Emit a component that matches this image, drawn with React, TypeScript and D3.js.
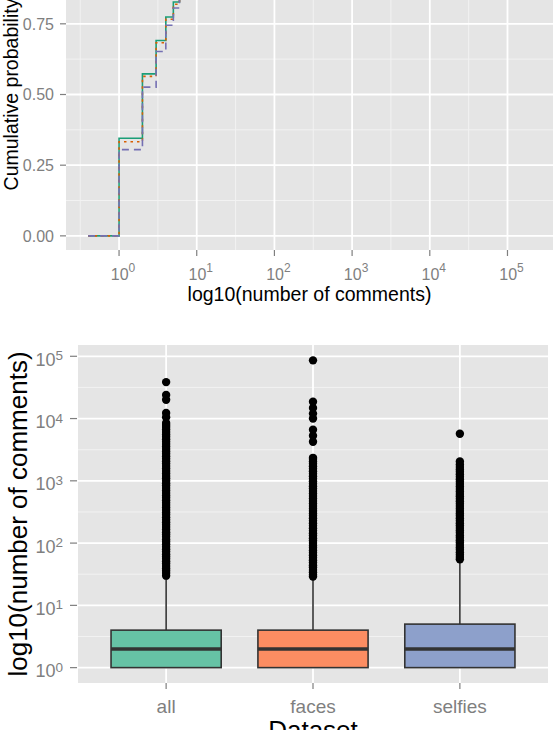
import { useEffect, useRef } from "react";
import * as d3 from "d3";

const W = 557,
  H = 730;

// top panel: ECDF of number of comments
const ecdfSeries = ["all", "faces", "selfies"];
const ecdfX = [0.4, 1, 2, 3, 4, 5, 6, 7, 8, 10, 20, 100, 1000, 200000];
const ecdfAll = [0, 0.345, 0.573, 0.691, 0.774, 0.827, 0.862, 0.888, 0.907, 0.93, 0.97, 0.992, 0.999, 1];
const ecdfFaces = [0, 0.333, 0.564, 0.683, 0.766, 0.819, 0.856, 0.883, 0.902, 0.926, 0.968, 0.991, 0.999, 1];
const ecdfSelfies = [0, 0.305, 0.526, 0.652, 0.745, 0.806, 0.843, 0.872, 0.893, 0.918, 0.963, 0.989, 0.998, 1];
const ecdfColors = ["#1B9E77", "#D95F02", "#7570B3"];
const ecdfDash = [null, "2.5,4", "7,5"];
const probTicks = [0, 0.25, 0.5, 0.75, 1];
const probMinor = [0.125, 0.375, 0.625, 0.875];
const decadeTicks = [0, 1, 2, 3, 4, 5];

// bottom panel: boxplots
const datasets = ["all", "faces", "selfies"];
const boxLow = [1, 1, 1];
const boxQ1 = [1, 1, 1];
const boxMedian = [2, 2, 2];
const boxQ3 = [4, 4, 5];
const boxHigh = [29, 28, 52];
const boxColors = ["#66C2A5", "#FC8D62", "#8DA0CB"];
const outliersAll = [
  30, 33, 36, 39, 43, 47, 51, 56, 61, 66, 73, 80, 87, 96, 105, 114, 126, 138, 150, 165, 181, 197, 217, 238,
  259, 284, 310, 341, 372, 408, 445, 488, 535, 583, 640, 700, 765, 840, 915, 1005, 1100, 1200, 1315, 1440,
  1575, 1725, 1890, 2065, 2260, 2475, 2710, 2960, 3245, 3550, 3885, 4250, 4650, 5090, 5570, 6100, 6670,
  7300, 7900, 8500, 10500, 12300, 20000, 24000, 38500,
];
const outliersFaces = [
  29, 31, 34, 37, 41, 44, 49, 53, 58, 64, 70, 76, 84, 91, 100, 110, 120, 132, 144, 158, 173, 190, 208, 228,
  250, 274, 300, 329, 360, 395, 433, 474, 520, 570, 624, 684, 750, 822, 900, 987, 1081, 1185, 1300, 1423,
  1560, 1710, 1873, 2050, 2250, 2340, 4250, 5300, 6600, 10000, 12000, 14800, 18600, 86000,
];
const outliersSelfies = [
  55, 60, 65, 71, 78, 85, 93, 102, 111, 122, 133, 146, 160, 175, 191, 209, 229, 250, 274, 300, 328, 359,
  393, 430, 471, 515, 564, 617, 676, 740, 810, 886, 970, 1062, 1162, 1272, 1393, 1525, 1670, 1830, 2050,
  5700,
];

const FONT = "'Liberation Sans', Arial, sans-serif";

function App() {
  const svgRef = useRef(null);

  const buildSVG = () => {
    const svg = d3.select(svgRef.current);
    svg.selectAll("*").remove();
    svg.attr("width", W).attr("height", H).style("font-family", FONT);

    // ---------- top panel ----------
    const p1 = { left: 66, right: 553, top: -61, bottom: 250 };
    const lx = ecdfX.map((v) => Math.log10(v));
    const lMin = d3.min(lx) as number,
      lMax = d3.max(lx) as number;
    const pad = (lMax - lMin) * 0.05;
    const x1 = d3
      .scaleLog()
      .domain([Math.pow(10, lMin - pad), Math.pow(10, lMax + pad)])
      .range([p1.left, p1.right]);
    const y1 = d3.scaleLinear().domain([-0.05, 1.05]).range([p1.bottom, p1.top]);

    const g1 = svg.append("g");
    g1.append("rect")
      .attr("x", p1.left)
      .attr("y", p1.top)
      .attr("width", p1.right - p1.left)
      .attr("height", p1.bottom - p1.top)
      .attr("fill", "#E5E5E5");

    g1.selectAll(".ym")
      .data(probMinor)
      .enter()
      .append("line")
      .attr("x1", p1.left)
      .attr("x2", p1.right)
      .attr("y1", (d) => y1(d))
      .attr("y2", (d) => y1(d))
      .attr("stroke", "#F2F2F2")
      .attr("stroke-width", 1);
    g1.selectAll(".xm")
      .data(decadeTicks.slice(0, 5).map((d) => d + 0.5).concat([-0.5]))
      .enter()
      .append("line")
      .attr("x1", (d) => x1(Math.pow(10, d)))
      .attr("x2", (d) => x1(Math.pow(10, d)))
      .attr("y1", p1.top)
      .attr("y2", p1.bottom)
      .attr("stroke", "#F2F2F2")
      .attr("stroke-width", 1);
    g1.selectAll(".yg")
      .data(probTicks)
      .enter()
      .append("line")
      .attr("x1", p1.left)
      .attr("x2", p1.right)
      .attr("y1", (d) => y1(d))
      .attr("y2", (d) => y1(d))
      .attr("stroke", "white")
      .attr("stroke-width", 1.8);
    g1.selectAll(".xg")
      .data(decadeTicks)
      .enter()
      .append("line")
      .attr("x1", (d) => x1(Math.pow(10, d)))
      .attr("x2", (d) => x1(Math.pow(10, d)))
      .attr("y1", p1.top)
      .attr("y2", p1.bottom)
      .attr("stroke", "white")
      .attr("stroke-width", 1.8);

    svg
      .append("clipPath")
      .attr("id", "clip1")
      .append("rect")
      .attr("x", p1.left)
      .attr("y", p1.top)
      .attr("width", p1.right - p1.left)
      .attr("height", p1.bottom - p1.top);

    const ecdfVals = [ecdfAll, ecdfFaces, ecdfSelfies];
    const line = d3
      .line<[number, number]>()
      .x((d) => x1(d[0]))
      .y((d) => y1(d[1]))
      .curve(d3.curveStepAfter);
    ecdfSeries.forEach((s, i) => {
      const pts = ecdfX.map((v, j) => [v, ecdfVals[i][j]] as [number, number]);
      const path = g1
        .append("path")
        .attr("clip-path", "url(#clip1)")
        .attr("d", line(pts))
        .attr("fill", "none")
        .attr("stroke", ecdfColors[i])
        .attr("stroke-width", 1.6);
      if (ecdfDash[i]) path.attr("stroke-dasharray", ecdfDash[i] as string);
    });

    // axes top
    probTicks.forEach((t) => {
      g1.append("line")
        .attr("x1", p1.left - 6)
        .attr("x2", p1.left)
        .attr("y1", y1(t))
        .attr("y2", y1(t))
        .attr("stroke", "#7F7F7F")
        .attr("stroke-width", 1.2);
      g1.append("text")
        .attr("x", p1.left - 12)
        .attr("y", y1(t) + 5.7)
        .attr("text-anchor", "end")
        .attr("font-size", 16)
        .attr("fill", "#7F7F7F")
        .text(t.toFixed(2));
    });
    decadeTicks.forEach((t) => {
      const xx = x1(Math.pow(10, t));
      g1.append("line")
        .attr("x1", xx)
        .attr("x2", xx)
        .attr("y1", p1.bottom)
        .attr("y2", p1.bottom + 6)
        .attr("stroke", "#7F7F7F")
        .attr("stroke-width", 1.2);
      const tx = g1
        .append("text")
        .attr("x", xx + 4)
        .attr("y", p1.bottom + 30)
        .attr("text-anchor", "middle")
        .attr("font-size", 16)
        .attr("fill", "#7F7F7F");
      tx.append("tspan").text("10");
      tx.append("tspan").attr("dy", -8).attr("font-size", 12).text(String(t));
    });
    g1.append("text")
      .attr("x", (p1.left + p1.right) / 2)
      .attr("y", 301)
      .attr("text-anchor", "middle")
      .attr("font-size", 19.5)
      .attr("fill", "black")
      .text("log10(number of comments)");
    g1.append("text")
      .attr("transform", `translate(17.5,${(p1.top + p1.bottom) / 2}) rotate(-90)`)
      .attr("text-anchor", "middle")
      .attr("font-size", 19.5)
      .attr("fill", "black")
      .text("Cumulative probability");

    // ---------- bottom panel ----------
    const p2 = { left: 78, right: 548, top: 345, bottom: 683 };
    const allVals = [boxLow, boxHigh, outliersAll, outliersFaces, outliersSelfies].flat();
    const vMin = Math.log10(d3.min(allVals) as number),
      vMax = Math.log10(d3.max(allVals) as number);
    const vpad = (vMax - vMin) * 0.05;
    const y2 = d3
      .scaleLog()
      .domain([Math.pow(10, vMin - vpad), Math.pow(10, vMax + vpad)])
      .range([p2.bottom, p2.top]);
    const x2 = d3.scalePoint().domain(datasets).range([p2.left, p2.right]).padding(0.6);
    const step = x2.step();

    const g2 = svg.append("g");
    g2.append("rect")
      .attr("x", p2.left)
      .attr("y", p2.top)
      .attr("width", p2.right - p2.left)
      .attr("height", p2.bottom - p2.top)
      .attr("fill", "#E5E5E5");
    g2.selectAll(".ym")
      .data(decadeTicks.slice(0, 5).map((d) => d + 0.5))
      .enter()
      .append("line")
      .attr("x1", p2.left)
      .attr("x2", p2.right)
      .attr("y1", (d) => y2(Math.pow(10, d)))
      .attr("y2", (d) => y2(Math.pow(10, d)))
      .attr("stroke", "#F2F2F2")
      .attr("stroke-width", 1);
    g2.selectAll(".yg")
      .data(decadeTicks)
      .enter()
      .append("line")
      .attr("x1", p2.left)
      .attr("x2", p2.right)
      .attr("y1", (d) => y2(Math.pow(10, d)))
      .attr("y2", (d) => y2(Math.pow(10, d)))
      .attr("stroke", "white")
      .attr("stroke-width", 1.8);
    g2.selectAll(".xg")
      .data(datasets)
      .enter()
      .append("line")
      .attr("x1", (d) => x2(d) as number)
      .attr("x2", (d) => x2(d) as number)
      .attr("y1", p2.top)
      .attr("y2", p2.bottom)
      .attr("stroke", "white")
      .attr("stroke-width", 1.8);

    const outliers = [outliersAll, outliersFaces, outliersSelfies];
    datasets.forEach((c, i) => {
      const cx = x2(c) as number;
      const bw = step * 0.75;
      g2.append("line")
        .attr("x1", cx)
        .attr("x2", cx)
        .attr("y1", y2(boxQ3[i]))
        .attr("y2", y2(boxHigh[i]))
        .attr("stroke", "#333333")
        .attr("stroke-width", 1.6);
      g2.append("line")
        .attr("x1", cx)
        .attr("x2", cx)
        .attr("y1", y2(boxQ1[i]))
        .attr("y2", y2(boxLow[i]))
        .attr("stroke", "#333333")
        .attr("stroke-width", 1.6);
      g2.append("rect")
        .attr("x", cx - bw / 2)
        .attr("y", y2(boxQ3[i]))
        .attr("width", bw)
        .attr("height", y2(boxQ1[i]) - y2(boxQ3[i]))
        .attr("fill", boxColors[i])
        .attr("stroke", "#333333")
        .attr("stroke-width", 1.6);
      g2.append("line")
        .attr("x1", cx - bw / 2)
        .attr("x2", cx + bw / 2)
        .attr("y1", y2(boxMedian[i]))
        .attr("y2", y2(boxMedian[i]))
        .attr("stroke", "#333333")
        .attr("stroke-width", 3.5);
      g2.selectAll(".out" + i)
        .data(outliers[i])
        .enter()
        .append("circle")
        .attr("cx", cx)
        .attr("cy", (d) => y2(d))
        .attr("r", 4.2)
        .attr("fill", "black");
    });

    decadeTicks.forEach((t) => {
      const yy = y2(Math.pow(10, t));
      g2.append("line")
        .attr("x1", p2.left - 8)
        .attr("x2", p2.left - 1)
        .attr("y1", yy)
        .attr("y2", yy)
        .attr("stroke", "#7F7F7F")
        .attr("stroke-width", 1.2);
      const tx = g2
        .append("text")
        .attr("x", p2.left - 15)
        .attr("y", yy + 9.6)
        .attr("text-anchor", "end")
        .attr("font-size", 18)
        .attr("fill", "#7F7F7F");
      tx.append("tspan").text("10");
      tx.append("tspan").attr("dy", -5.5).attr("font-size", 13.5).text(String(t));
    });
    datasets.forEach((c) => {
      const cx = x2(c) as number;
      g2.append("line")
        .attr("x1", cx)
        .attr("x2", cx)
        .attr("y1", p2.bottom)
        .attr("y2", p2.bottom + 6)
        .attr("stroke", "#7F7F7F")
        .attr("stroke-width", 1.2);
      g2.append("text")
        .attr("x", cx)
        .attr("y", 713)
        .attr("text-anchor", "middle")
        .attr("font-size", 19)
        .attr("fill", "#7F7F7F")
        .text(c);
    });
    g2.append("text")
      .attr("x", (p2.left + p2.right) / 2)
      .attr("y", 739)
      .attr("text-anchor", "middle")
      .attr("font-size", 26)
      .attr("fill", "black")
      .text("Dataset");
    g2.append("text")
      .attr("transform", `translate(27,${(p2.top + p2.bottom) / 2}) rotate(-90)`)
      .attr("text-anchor", "middle")
      .attr("font-size", 26)
      .attr("fill", "black")
      .text("log10(number of comments)");
  };

  useEffect(buildSVG, []);

  return (
    <div style={{ position: "absolute", left: 0, top: 0, width: W, height: H, overflow: "hidden", background: "white" }}>
      <svg ref={svgRef} style={{ display: "block" }}></svg>
    </div>
  );
}

export default App;
